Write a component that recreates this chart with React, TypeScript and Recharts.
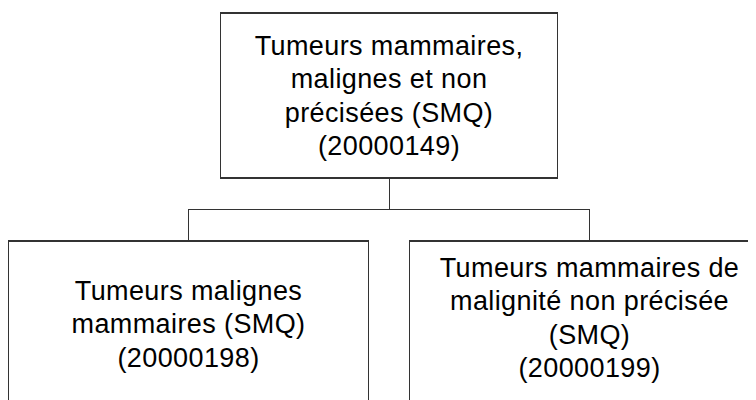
import { Scatter, ScatterChart, XAxis, YAxis } from "recharts";

// hierarchy: one parent SMQ and two child SMQs
const nodeTitles: string[][] = [
  ["Tumeurs mammaires,", "malignes et non", "précisées (SMQ)"],
  ["Tumeurs malignes", "mammaires (SMQ)"],
  ["Tumeurs mammaires de", "malignité non précisée", "(SMQ)"],
];
const nodeCodes = ["20000149", "20000198", "20000199"];
const nodeParent = [-1, 0, 0];
const nodeLevel = [0, 1, 1];
const nodeSlot = [0.5, 0, 1];

const CHART_W = 748;
const CHART_H = 392;
const BOX_W = [337, 360];
const BOX_H = 165;
const LINE_GAP = 33.5;
const FONT_SIZE = 27;
const CAP_HALF = 9.6;
// the right-hand box keeps its text a little higher than centre
const textNudge: Record<number, number> = { 2: -6 };

const nodes = nodeCodes.map((code, i) => ({
  id: i,
  slot: nodeSlot[i],
  level: nodeLevel[i],
  lines: [...nodeTitles[i], `(${code})`],
}));

// elbow connectors parent -> child, meeting halfway between levels
const edges = nodes
  .filter((n) => nodeParent[n.id] >= 0)
  .map((n) => {
    const p = nodes[nodeParent[n.id]];
    const mid = (p.level + n.level) / 2;
    return [
      { slot: p.slot, level: p.level },
      { slot: p.slot, level: mid },
      { slot: n.slot, level: mid },
      { slot: n.slot, level: n.level },
    ];
  });

function NodeBox(props: any) {
  const { cx, cy, payload } = props;
  const w = BOX_W[payload.level];
  const lines: string[] = payload.lines;
  const center = cy + (textNudge[payload.id] ?? 0);
  return (
    <g>
      <rect
        x={cx - w / 2}
        y={cy - BOX_H / 2}
        width={w}
        height={BOX_H}
        fill="#fff"
        stroke="#333"
        strokeWidth={1.2}
        shapeRendering="crispEdges"
      />
      {lines.map((line, i) => (
        <text
          key={i}
          x={cx}
          y={center + (i - (lines.length - 1) / 2) * LINE_GAP + CAP_HALF}
          textAnchor="middle"
          fontFamily="Arial, 'Liberation Sans', sans-serif"
          fontSize={FONT_SIZE}
          letterSpacing={0.4}
          fill="#000"
        >
          {line}
        </text>
      ))}
    </g>
  );
}

const NoDot = () => <g />;

export default function App() {
  return (
    <div style={{ width: CHART_W, height: CHART_H }}>
      <ScatterChart
        width={CHART_W}
        height={CHART_H}
        margin={{ top: 87.5, right: 166.5, bottom: 76.5, left: 180.5 }}
      >
        <XAxis type="number" dataKey="slot" domain={[0, 1]} hide />
        <YAxis type="number" dataKey="level" domain={[0, 1]} reversed hide />
        {edges.map((e, i) => (
          <Scatter
            key={`edge-${i}`}
            data={e}
            line={{ stroke: "#333", strokeWidth: 1, shapeRendering: "crispEdges" }}
            shape={NoDot}
            isAnimationActive={false}
          />
        ))}
        <Scatter data={nodes} shape={NodeBox} isAnimationActive={false} />
      </ScatterChart>
    </div>
  );
}
